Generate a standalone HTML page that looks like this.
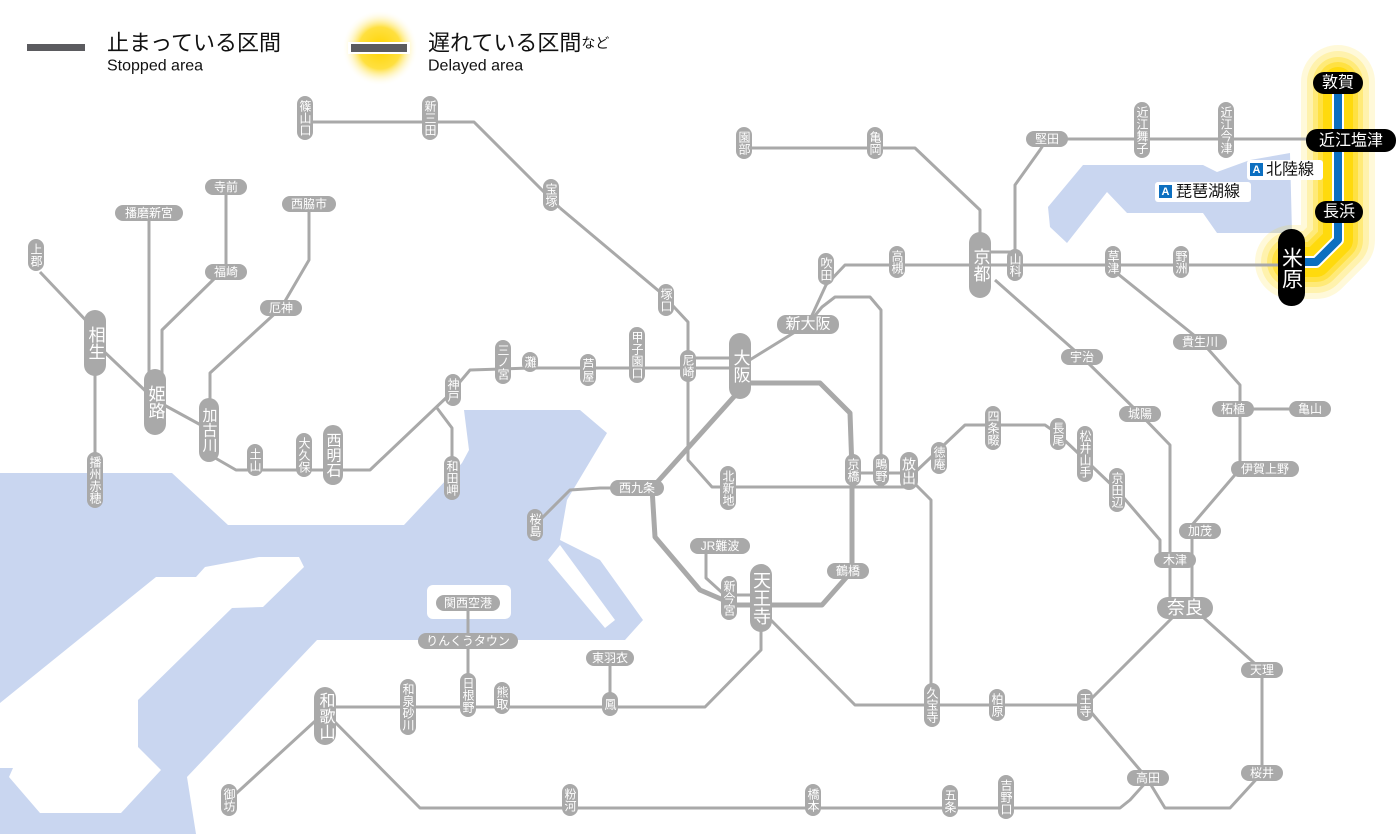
<!DOCTYPE html>
<html><head><meta charset="utf-8">
<style>
html,body{margin:0;padding:0;background:#fff;}
svg{display:block;}
.t{font-family:"Liberation Sans","Noto Sans CJK JP",sans-serif;fill:#fff;text-anchor:middle;dominant-baseline:central;}
.v{writing-mode:vertical-rl;text-orientation:upright;}
.p{fill:#a9a9a9;}
.l{fill:none;stroke:#a9a9a9;stroke-width:3;stroke-linejoin:round;}
.L{fill:none;stroke:#a9a9a9;stroke-width:5;stroke-linejoin:round;}
.gw{fill:none;stroke:#ffd800;stroke-linejoin:round;stroke-linecap:round;}
</style></head><body>
<svg width="1400" height="834" viewBox="0 0 1400 834" xmlns="http://www.w3.org/2000/svg">
<defs>
<radialGradient id="g1"><stop offset="0" stop-color="#ffd400"/><stop offset="0.55" stop-color="#ffe040"/><stop offset="1" stop-color="#fff" stop-opacity="0"/></radialGradient>
</defs>
<!-- water -->
<g fill="#c9d6f0">
<polygon points="0,473 172,473 228,525 404,525 462,463 469,450 464,410 580,410 607,433 567,500 560,540 600,560 643,620 625,640 317,640 187,777 196,834 0,834"/>
<polygon points="1048,207 1083,165 1203,165 1217,172 1250,160 1290,153 1292,233 1217,233 1203,213 1127,213 1107,192 1067,243 1050,227"/>
</g>
<g fill="#fff">
<polygon points="0,703 156,577 196,577 205,567 259,557 299,557 304,567 263,607 232,608 138,700 138,747 161,770 121,813 40,813 9,777 13,768 0,768"/>
<rect x="427" y="585" width="84" height="34" rx="6"/>
<polygon points="548,560 560,545 615,620 605,628"/>
</g>
<!-- legend -->
<rect x="27" y="44" width="58" height="7" fill="#5b5b5f"/>
<text x="107" y="43" class="t" style="fill:#111;text-anchor:start;font-size:22px">止まっている区間</text>
<text x="107" y="66" class="t" style="fill:#111;text-anchor:start;font-size:16px">Stopped area</text>
<circle cx="380" cy="48" r="38" fill="url(#g1)"/>
<rect x="348" y="42" width="62" height="12" fill="#fff"/>
<rect x="351" y="44" width="56" height="8" fill="#5b5b5f"/>
<text x="428" y="43" class="t" style="fill:#111;text-anchor:start;font-size:22px">遅れている区間<tspan style="font-size:14px">など</tspan></text>
<text x="428" y="66" class="t" style="fill:#111;text-anchor:start;font-size:16px">Delayed area</text>
<!-- glow for hokuriku -->
<g>
<path class="gw" d="M1338,82 L1338,240 L1316,262 L1292,262" stroke-width="74" stroke-opacity="0.15"/>
<path class="gw" d="M1338,82 L1338,240 L1316,262 L1292,262" stroke-width="62" stroke-opacity="0.2"/>
<path class="gw" d="M1338,82 L1338,240 L1316,262 L1292,262" stroke-width="50" stroke-opacity="0.3"/>
<path class="gw" d="M1338,82 L1338,240 L1316,262 L1292,262" stroke-width="40" stroke-opacity="0.45"/>
<path class="gw" d="M1338,82 L1338,240 L1316,262 L1292,262" stroke-width="30" stroke-opacity="0.8"/>
</g>
<path d="M1338,82 L1338,240 L1316,262 L1292,262" fill="none" stroke="#fff" stroke-width="12" stroke-linejoin="round"/>
<path d="M1338,82 L1338,240 L1316,262 L1292,262" fill="none" stroke="#0c6fc0" stroke-width="8" stroke-linejoin="round"/>
<!-- lines -->
<g class="l">
<polyline points="305,122 474,122 560,208"/>
<polyline points="560,208 660,292 688,322 688,460 712,487 853,487"/>
<polyline points="853,473 909,473"/><polyline points="853,487 909,487"/>
<polyline points="40,272 95,330"/><polyline points="95,343 95,480"/>
<polyline points="95,343 155,400 210,430"/>
<polyline points="149,220 149,392"/>
<polyline points="226,195 226,265"/><polyline points="215,278 162,330 162,390"/>
<polyline points="309,212 309,260 281,308 210,373 210,425"/>
<polyline points="210,455 236,470 370,470 448,396 470,370 530,368 740,368"/>
<polyline points="688,358 740,358"/>
<polyline points="437,408 452,428 452,470"/>
<polyline points="740,366 808,324 826,285 845,265 1290,265"/>
<polyline points="980,252 1015,252"/>
<polyline points="1015,255 1015,185 1040,150 1047,139 1338,139"/>
<polyline points="744,148 915,148 980,210 980,255"/>
<polyline points="1113,270 1200,340 1240,385 1240,469 1192,525 1192,608"/>
<polyline points="1240,409 1310,409"/>
<polyline points="995,280 1082,357 1140,414 1170,445 1170,608"/>
<polyline points="909,478 931,500 931,705"/>
<polyline points="909,478 965,425 1045,425 1058,434 1117,490 1160,540 1160,560"/>
<polyline points="808,324 822,307 835,297 870,297 881,310 881,470"/>
<polyline points="637,488 600,488 570,490 535,525"/>
<polyline points="706,546 706,578 728,598"/>
<polyline points="729,595 761,595"/>
<polyline points="761,610 855,705 1085,705 1175,615"/>
<polyline points="1085,705 1140,770 1148,778"/>
<polyline points="1195,610 1262,670 1262,773 1230,808 1165,808 1148,780"/>
<polyline points="1148,780 1130,800 1120,808 420,808 325,712"/>
<polyline points="761,615 761,650 705,707 325,707"/>
<polyline points="610,660 610,705"/><polyline points="468,610 468,695"/>
<polyline points="325,712 229,800"/>
</g>
<polyline class="L" points="740,383 820,383 850,413 852,470 852,571 822,605 735,605 700,590 655,537 652,488 740,390"/>
<!-- vertical small stations -->
<g class="p">
<rect x="297" y="96" width="16" height="44" rx="8"/>
<rect x="422" y="96" width="16" height="44" rx="8"/>
<rect x="543" y="179" width="16" height="32" rx="8"/>
<rect x="658" y="284" width="16" height="32" rx="8"/>
<rect x="680" y="350" width="16" height="32" rx="8"/>
<rect x="629" y="327" width="16" height="56" rx="8"/>
<rect x="580" y="354" width="16" height="32" rx="8"/>
<rect x="522" y="352" width="16" height="20" rx="8"/>
<rect x="495" y="340" width="16" height="44" rx="8"/>
<rect x="445" y="374" width="16" height="32" rx="8"/>
<rect x="444" y="456" width="16" height="44" rx="8"/>
<rect x="296" y="433" width="16" height="44" rx="8"/>
<rect x="247" y="444" width="16" height="32" rx="8"/>
<rect x="28" y="239" width="16" height="32" rx="8"/>
<rect x="87" y="452" width="16" height="56" rx="8"/>
<rect x="818" y="253" width="16" height="32" rx="8"/>
<rect x="889" y="246" width="16" height="32" rx="8"/>
<rect x="1007" y="249" width="16" height="32" rx="8"/>
<rect x="736" y="127" width="16" height="32" rx="8"/>
<rect x="867" y="127" width="16" height="32" rx="8"/>
<rect x="1134" y="102" width="16" height="56" rx="8"/>
<rect x="1218" y="102" width="16" height="56" rx="8"/>
<rect x="1105" y="246" width="16" height="32" rx="8"/>
<rect x="1173" y="246" width="16" height="32" rx="8"/>
<rect x="985" y="406" width="16" height="44" rx="8"/>
<rect x="1050" y="418" width="16" height="32" rx="8"/>
<rect x="1077" y="426" width="16" height="56" rx="8"/>
<rect x="1109" y="468" width="16" height="44" rx="8"/>
<rect x="931" y="442" width="16" height="32" rx="8"/>
<rect x="900" y="452" width="18" height="38" rx="9"/>
<rect x="873" y="454" width="16" height="32" rx="8"/>
<rect x="845" y="454" width="16" height="32" rx="8"/>
<rect x="720" y="466" width="16" height="44" rx="8"/>
<rect x="527" y="509" width="16" height="32" rx="8"/>
<rect x="721" y="576" width="16" height="44" rx="8"/>
<rect x="460" y="673" width="16" height="44" rx="8"/>
<rect x="494" y="682" width="16" height="32" rx="8"/>
<rect x="400" y="679" width="16" height="56" rx="8"/>
<rect x="602" y="692" width="16" height="24" rx="8"/>
<rect x="221" y="784" width="16" height="32" rx="8"/>
<rect x="562" y="784" width="16" height="32" rx="8"/>
<rect x="805" y="784" width="16" height="32" rx="8"/>
<rect x="942" y="785" width="16" height="32" rx="8"/>
<rect x="998" y="775" width="16" height="44" rx="8"/>
<rect x="1077" y="689" width="16" height="32" rx="8"/>
<rect x="989" y="689" width="16" height="32" rx="8"/>
<rect x="924" y="683" width="16" height="44" rx="8"/>
</g>
<g class="t v" style="font-size:12px">
<text x="305" y="118">篠山口</text><text x="430" y="118">新三田</text><text x="551" y="195">宝塚</text>
<text x="666" y="300">塚口</text><text x="688" y="366">尼崎</text><text x="637" y="355">甲子園口</text>
<text x="588" y="370">芦屋</text><text x="530" y="362">灘</text><text x="503" y="362">三ノ宮</text>
<text x="453" y="390">神戸</text><text x="452" y="478">和田岬</text><text x="304" y="455">大久保</text>
<text x="255" y="460">土山</text><text x="36" y="255">上郡</text><text x="95" y="480">播州赤穂</text>
<text x="826" y="269">吹田</text><text x="897" y="262">高槻</text><text x="1015" y="265">山科</text>
<text x="744" y="143">園部</text><text x="875" y="143">亀岡</text><text x="1142" y="130">近江舞子</text>
<text x="1226" y="130">近江今津</text><text x="1113" y="262">草津</text><text x="1181" y="262">野洲</text>
<text x="993" y="428">四条畷</text><text x="1058" y="434">長尾</text><text x="1085" y="454">松井山手</text>
<text x="1117" y="490">京田辺</text><text x="939" y="458">徳庵</text><text x="909" y="471" style="font-size:14px">放出</text>
<text x="881" y="470">鴫野</text><text x="853" y="470">京橋</text><text x="728" y="488">北新地</text>
<text x="535" y="525">桜島</text><text x="729" y="598">新今宮</text><text x="468" y="695">日根野</text>
<text x="502" y="698">熊取</text><text x="408" y="707">和泉砂川</text><text x="610" y="704">鳳</text>
<text x="229" y="800">御坊</text><text x="570" y="800">粉河</text><text x="813" y="800">橋本</text>
<text x="950" y="801">五条</text><text x="1006" y="797">吉野口</text><text x="1085" y="705">王寺</text>
<text x="997" y="705">柏原</text><text x="932" y="705">久宝寺</text>
</g>
<!-- horizontal small -->
<g class="p">
<rect x="115" y="205" width="68" height="16" rx="8"/>
<rect x="205" y="179" width="42" height="16" rx="8"/>
<rect x="205" y="264" width="42" height="16" rx="8"/>
<rect x="282" y="196" width="54" height="16" rx="8"/>
<rect x="260" y="300" width="42" height="16" rx="8"/>
<rect x="1026" y="131" width="42" height="16" rx="8"/>
<rect x="1061" y="349" width="42" height="16" rx="8"/>
<rect x="1173" y="334" width="54" height="16" rx="8"/>
<rect x="1119" y="406" width="42" height="16" rx="8"/>
<rect x="1212" y="401" width="42" height="16" rx="8"/>
<rect x="1289" y="401" width="42" height="16" rx="8"/>
<rect x="1231" y="461" width="68" height="16" rx="8"/>
<rect x="1179" y="523" width="42" height="16" rx="8"/>
<rect x="1154" y="552" width="42" height="16" rx="8"/>
<rect x="1241" y="662" width="42" height="16" rx="8"/>
<rect x="1241" y="765" width="42" height="16" rx="8"/>
<rect x="1127" y="770" width="42" height="16" rx="8"/>
<rect x="610" y="480" width="54" height="16" rx="8"/>
<rect x="690" y="538" width="60" height="16" rx="8"/>
<rect x="827" y="563" width="42" height="16" rx="8"/>
<rect x="436" y="595" width="64" height="16" rx="8"/>
<rect x="418" y="633" width="100" height="16" rx="8"/>
<rect x="586" y="650" width="48" height="16" rx="8"/>
</g>
<g class="t" style="font-size:12px">
<text x="149" y="213">播磨新宮</text><text x="226" y="187">寺前</text><text x="226" y="272">福崎</text>
<text x="309" y="204">西脇市</text><text x="281" y="308">厄神</text><text x="1047" y="139">堅田</text>
<text x="1082" y="357">宇治</text><text x="1200" y="342">貴生川</text><text x="1140" y="414">城陽</text>
<text x="1233" y="409">柘植</text><text x="1310" y="409">亀山</text><text x="1265" y="469">伊賀上野</text>
<text x="1200" y="531">加茂</text><text x="1175" y="560">木津</text><text x="1262" y="670">天理</text>
<text x="1262" y="773">桜井</text><text x="1148" y="778">高田</text><text x="637" y="488">西九条</text>
<text x="720" y="546">JR難波</text><text x="848" y="571">鶴橋</text><text x="468" y="603">関西空港</text>
<text x="468" y="641">りんくうタウン</text><text x="610" y="658">東羽衣</text>
</g>
<!-- big stations -->
<g class="p">
<rect x="729" y="333" width="22" height="66" rx="11"/>
<rect x="969" y="232" width="22" height="66" rx="11"/>
<rect x="144" y="369" width="22" height="66" rx="11"/>
<rect x="84" y="310" width="22" height="66" rx="11"/>
<rect x="750" y="564" width="22" height="68" rx="11"/>
<rect x="314" y="687" width="22" height="58" rx="11"/>
<rect x="199" y="398" width="20" height="64" rx="10"/>
<rect x="323" y="425" width="20" height="60" rx="10"/>
<rect x="777" y="315" width="62" height="19" rx="9"/>
<rect x="1157" y="597" width="56" height="22" rx="11"/>
</g>
<g class="t v" style="font-size:17px">
<text x="740" y="366">大阪</text><text x="980" y="265">京都</text><text x="155" y="402">姫路</text>
<text x="95" y="343">相生</text><text x="761" y="598" style="font-size:18px">天王寺</text><text x="325" y="716" style="font-size:16px">和歌山</text>
<text x="209" y="430" style="font-size:15px">加古川</text><text x="333" y="455" style="font-size:15px">西明石</text>
</g>
<text x="808" y="324" class="t" style="font-size:15px">新大阪</text>
<text x="1185" y="608" class="t" style="font-size:18px">奈良</text>
<!-- black stations -->
<g fill="#000">
<rect x="1313" y="72" width="50" height="22" rx="11"/>
<rect x="1306" y="129" width="90" height="23" rx="11"/>
<rect x="1315" y="201" width="48" height="22" rx="11"/>
<rect x="1278" y="229" width="27" height="77" rx="13"/>
</g>
<g class="t" style="font-size:16px">
<text x="1338" y="83">敦賀</text><text x="1351" y="141">近江塩津</text><text x="1339" y="212">長浜</text>
</g>
<text x="1291" y="268" class="t v" style="font-size:21px">米原</text>
<!-- line labels -->
<rect x="1247" y="160" width="76" height="20" rx="3" fill="#fff"/>
<rect x="1250" y="163" width="13" height="13" fill="#0c6fc0"/>
<text x="1256.5" y="170" class="t" style="font-size:11px;font-weight:bold">A</text>
<text x="1266" y="170" class="t" style="fill:#111;text-anchor:start;font-size:16px">北陸線</text>
<rect x="1155" y="182" width="96" height="20" rx="3" fill="#fff"/>
<rect x="1159" y="185" width="13" height="13" fill="#0c6fc0"/>
<text x="1165.5" y="192" class="t" style="font-size:11px;font-weight:bold">A</text>
<text x="1176" y="192" class="t" style="fill:#111;text-anchor:start;font-size:16px">琵琶湖線</text>
</svg>
</body></html>
